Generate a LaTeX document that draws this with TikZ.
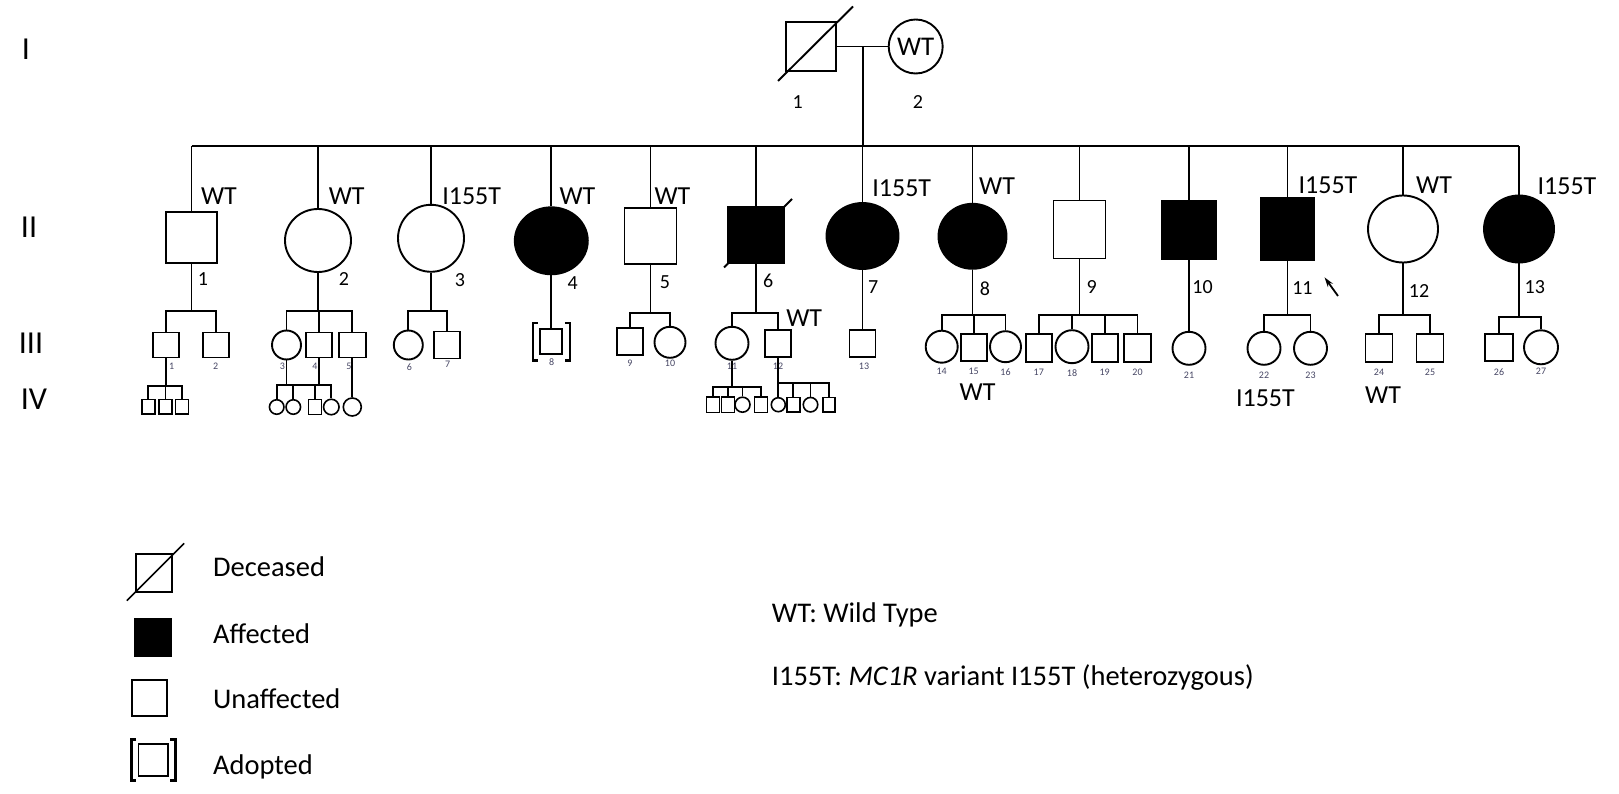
\documentclass[tikz,border=0pt]{standalone}
\usepackage{fontspec}
\setmainfont{Carlito}
\usetikzlibrary{arrows.meta, positioning, calc, shapes.geometric}
\definecolor{idxgray}{RGB}{70,70,100}
\tikzset{
  ind/.style={draw, line width=1.9pt, inner sep=0pt, fill=white},
  aff/.style={fill=black},
  bigsq/.style={ind, rectangle, minimum width=52pt, minimum height=56pt},
  bigci/.style={ind, ellipse, minimum width=69pt, minimum height=66pt},
  midsq/.style={ind, rectangle, minimum width=26pt, minimum height=27pt},
  midci/.style={ind, circle, minimum size=32pt},
  smsq/.style={ind, rectangle, line width=1.6pt, minimum width=13pt, minimum height=14.5pt},
  smci/.style={ind, circle, line width=1.6pt, minimum size=14.5pt},
  rel/.style={line width=1.9pt},
  geno/.style={font=\fontsize{26}{28}\selectfont, anchor=base, inner sep=0pt},
  num/.style={font=\fontsize{20}{22}\selectfont, inner sep=0pt},
  idx/.style={font=\fontsize{10}{11}\selectfont, text=idxgray, inner sep=0pt},
  gen/.style={font=\fontsize{32}{34}\selectfont, anchor=base, inner sep=0pt},
  key/.style={font=\fontsize{28.5}{30}\selectfont, anchor=base west, inner sep=0pt},
}
\newcommand{\adoptbr}[4]{%
  \draw[line width=2.6pt] ($(#1)+(-#2+#4,-#3)$) -- ++(-#4,0) -- ++(0,2*#3) -- ++(#4,0);
  \draw[line width=2.6pt] ($(#1)+(#2-#4,-#3)$) -- ++(#4,0) -- ++(0,2*#3) -- ++(-#4,0);}

\begin{document}
\begin{tikzpicture}[x=1pt, y=-1pt]
  \useasboundingbox (0,0) rectangle (1619,794);
  \node[gen] (gI) at (26,60) {I};
  \node[gen] (gII) at (29,237.5) {II};
  \node[gen] (gIII) at (31,353) {III};
  \node[gen] (gIV) at (34,409) {IV};

  % generation I
  \node[bigsq, minimum width=50pt, minimum height=49pt] (I1) at (811,46.5) {};
  \node[ind, circle, minimum size=54pt, font=\fontsize{27}{28}\selectfont] (I2) at (915.7,46.5) {WT};
  \draw[rel] ($(I1)+(-33,34.5)$) -- ($(I1)+(42,-40)$);
  \draw[rel] (I1) -- (I2);
  \coordinate (m1) at (863,46.5);
  \coordinate (sib) at (863,145.7);
  \draw[rel] (m1) -- (sib);
  \node[num] (n01) at (797.6,102.5) {1};
  \node[num] (n02) at (918,102.5) {2};

  % generation II
  \node[bigsq, minimum width=51pt, minimum height=51pt] (II1) at (191.5,237.5) {};
  \node[bigci, minimum width=66pt, minimum height=63pt] (II2) at (318,240.5) {};
  \node[bigci, minimum width=66pt, minimum height=67pt] (II3) at (431,238.3) {};
  \node[bigci, aff, minimum width=73pt, minimum height=67pt] (II4) at (551.3,240.8) {};
  \node[bigsq] (II5) at (650.5,236) {};
  \node[bigsq, aff, minimum width=56pt, minimum height=56pt] (II6) at (756,235) {};
  \node[bigci, aff, minimum width=72pt, minimum height=66pt] (II7) at (862.5,236) {};
  \node[bigci, aff, minimum width=68pt, minimum height=65pt] (II8) at (972.5,236.3) {};
  \node[bigsq, minimum height=58pt] (II9) at (1079.5,229.5) {};
  \node[bigsq, aff, minimum width=55pt, minimum height=59pt] (II10) at (1189,230) {};
  \node[bigsq, aff, minimum width=54pt, minimum height=62pt] (II11) at (1287.5,228.7) {};
  \node[bigci, minimum width=70pt, minimum height=67pt] (II12) at (1403,229) {};
  \node[bigci, aff, minimum width=70pt, minimum height=67pt] (II13) at (1519,229) {};
  \draw[rel] ($(II6)+(-32,32.5)$) -- ($(II6)+(36,-36)$);
  \draw[rel] (II1 |- sib) -- (II13 |- sib);
  \foreach \k in {1,...,13} \draw[rel] (II\k) -- (II\k |- sib);

  \node[geno] (g1) at (219,205) {WT};
  \node[geno] (g2) at (346.7,205) {WT};
  \node[geno] (g3) at (471.7,205) {I155T};
  \node[geno] (g4) at (577.5,205) {WT};
  \node[geno] (g5) at (672.5,205) {WT};
  \node[geno] (g7) at (901.7,197) {I155T};
  \node[geno] (g8) at (997,195) {WT};
  \node[geno] (g11) at (1328,193.5) {I155T};
  \node[geno] (g12) at (1434,193.5) {WT};
  \node[geno] (g13) at (1567,195) {I155T};

  \node[num] (n1) at (203,279) {1};
  \node[num] (n2) at (344,279) {2};
  \node[num] (n3) at (460,280) {3};
  \node[num] (n4) at (572.7,283) {4};
  \node[num] (n5) at (665,281.7) {5};
  \node[num] (n6) at (768.3,281) {6};
  \node[num] (n7) at (873.3,287.3) {7};
  \node[num] (n8) at (985,288.3) {8};
  \node[num] (n9) at (1091.7,287.3) {9};
  \node[num] (n10) at (1202.6,286.7) {10};
  \node[num] (n11) at (1302.4,288.3) {11};
  \node[num] (n12) at (1419,291) {12};
  \node[num] (n13) at (1534.8,287.5) {13};
  \coordinate (pa) at (1338,296);
  \coordinate (pb) at (1324.5,277.3);
  \draw[-{Stealth[length=10pt, width=6pt]}, line width=1.8pt] (pa) -- (pb);

  % generation III
  \coordinate (s1) at (191.5,311);
  \node[midsq, minimum height=25pt] (III1) at (165.7,345) {};
  \node[midsq, minimum height=25pt] (III2) at (216,345) {};
  \draw[rel] (II1) -- (s1);
  \draw[rel] (III1) |- (s1) -| (III2);

  \coordinate (s2) at (318,311);
  \node[midci, minimum size=29pt] (III3) at (286.5,345) {};
  \node[midsq, minimum height=25pt] (III4) at (319,345) {};
  \node[midsq, minimum width=27pt, minimum height=25pt] (III5) at (352.3,345) {};
  \draw[rel] (II2) -- (s2);
  \draw[rel] (III3) |- (s2) -| (III5);
  \draw[rel] (III4) -- (III4 |- s2);

  \coordinate (s3) at (431,311);
  \node[midci, minimum size=29pt] (III6) at (408.3,345) {};
  \node[midsq] (III7) at (447,345) {};
  \draw[rel] (II3) -- (s3);
  \draw[rel] (III6) |- (s3) -| (III7);

  \node[ind, minimum width=22pt, minimum height=25pt] (III8) at (551.3,341.7) {};
  \draw[rel] (II4) -- (III8);
  \adoptbr{III8}{18.5}{18.7}{5}

  \coordinate (s5) at (650.5,313.3);
  \node[midsq] (III9) at (630,341.2) {};
  \node[midci, minimum size=31pt] (III10) at (670,342.3) {};
  \draw[rel] (II5) -- (s5);
  \draw[rel] (III9) |- (s5) -| (III10);

  \coordinate (s6) at (756,313.3);
  \node[midci, minimum size=33pt] (III11) at (732,343.3) {};
  \node[midsq] (III12) at (778.3,343.8) {};
  \draw[rel] (II6) -- (s6);
  \draw[rel] (III11) |- (s6) -| (III12);
  \node[geno] (g612) at (804.2,326.7) {WT};

  \node[midsq] (III13) at (862.5,343.7) {};
  \draw[rel] (II7) -- (III13);

  \coordinate (s8) at (972.5,315);
  \node[midci] (III14) at (941.7,346.7) {};
  \node[midsq] (III15) at (973.7,347.8) {};
  \node[midci, minimum size=31pt] (III16) at (1005.5,346.7) {};
  \draw[rel] (II8) -- (s8);
  \draw[rel] (III14) |- (s8) -| (III16);
  \draw[rel] (III15) -- (III15 |- s8);
  \node[geno] (g815) at (977.5,400) {WT};

  \coordinate (s9) at (1079.5,315);
  \node[midsq, minimum height=28pt] (III17) at (1038.8,348.3) {};
  \node[midci, minimum size=33pt] (III18) at (1072,346.7) {};
  \node[midsq, minimum height=28pt] (III19) at (1104.7,348.3) {};
  \node[midsq, minimum width=27pt, minimum height=28pt] (III20) at (1137.5,348.3) {};
  \draw[rel] (II9) -- (s9);
  \draw[rel] (III17) |- (s9) -| (III20);
  \draw[rel] (III18) -- (III18 |- s9);
  \draw[rel] (III19) -- (III19 |- s9);

  \node[midci, minimum size=33pt] (III21) at (1189,348.3) {};
  \draw[rel] (II10) -- (III21);

  \coordinate (s11) at (1287.5,315);
  \node[midci, minimum size=33pt] (III22) at (1264,348.3) {};
  \node[midci, minimum size=33pt] (III23) at (1310.5,348.3) {};
  \draw[rel] (II11) -- (s11);
  \draw[rel] (III22) |- (s11) -| (III23);
  \node[geno] (g1122) at (1265.4,406.7) {I155T};

  \coordinate (s12) at (1403,315);
  \node[midsq, minimum width=27pt, minimum height=28pt] (III24) at (1379,348) {};
  \node[midsq, minimum width=27pt, minimum height=28pt] (III25) at (1430,348) {};
  \draw[rel] (II12) -- (s12);
  \draw[rel] (III24) |- (s12) -| (III25);
  \node[geno] (g1224) at (1383,403.3) {WT};

  \coordinate (s13) at (1519,316.7);
  \node[midsq, minimum width=28pt] (III26) at (1499,347.3) {};
  \node[midci, minimum size=34pt] (III27) at (1541,347.3) {};
  \draw[rel] (II13) -- (s13);
  \draw[rel] (III26) |- (s13) -| (III27);

  \node[idx] (i1) at (171.7,366.7) {1};
  \node[idx] (i2) at (215.7,366.7) {2};
  \node[idx] (i3) at (282.3,366.7) {3};
  \node[idx] (i4) at (315,366.7) {4};
  \node[idx] (i5) at (349,366.7) {5};
  \node[idx] (i6) at (409.3,366.7) {6};
  \node[idx] (i7) at (447.7,364.3) {7};
  \node[idx] (i8) at (551.7,362.5) {8};
  \node[idx] (i9) at (630,363) {9};
  \node[idx] (i10) at (670,363) {10};
  \node[idx] (i11) at (732,366) {11};
  \node[idx] (i12) at (778,366) {12};
  \node[idx] (i13) at (864,366) {13};
  \node[idx] (i14) at (941.7,371.7) {14};
  \node[idx] (i15) at (973.7,371.7) {15};
  \node[idx] (i16) at (1005.5,371.7) {16};
  \node[idx] (i17) at (1038.8,372.7) {17};
  \node[idx] (i18) at (1072,372.7) {18};
  \node[idx] (i19) at (1104.7,372.7) {19};
  \node[idx] (i20) at (1137.5,372.7) {20};
  \node[idx] (i21) at (1189,375) {21};
  \node[idx] (i22) at (1264,375) {22};
  \node[idx] (i23) at (1310.5,375) {23};
  \node[idx] (i24) at (1379,372.7) {24};
  \node[idx] (i25) at (1430,372.7) {25};
  \node[idx] (i26) at (1499,371.7) {26};
  \node[idx] (i27) at (1541,371.7) {27};

  % generation IV
  \coordinate (t1) at (165.7,385.7);
  \node[smsq] (IV1) at (148.3,406.8) {};
  \node[smsq] (IV2) at (165.5,406.8) {};
  \node[smsq] (IV3) at (182,406.8) {};
  \draw[rel] (III1) -- (t1);
  \draw[rel] (IV1) |- (t1) -| (IV3);
  \draw[rel] (IV2) -- (IV2 |- t1);

  \coordinate (t2) at (300,385);
  \node[smci] (IV4) at (276.7,407) {};
  \node[smci] (IV5) at (293.3,407) {};
  \node[smsq, minimum height=15pt] (IV6) at (315,407) {};
  \node[smci, minimum size=15.5pt] (IV7) at (331.3,407) {};
  \draw[rel] (III3) -- (III3 |- t2);
  \draw[rel] (III4) -- (III4 |- t2);
  \draw[rel] (IV4) |- (t2) -| (IV7);
  \draw[rel] (IV5) -- (IV5 |- t2);
  \draw[rel] (IV6) -- (IV6 |- t2);
  \node[smci, minimum size=18pt] (IV8) at (352.3,407) {};
  \draw[rel] (III5) -- (IV8);

  \coordinate (t3) at (732,386.7);
  \node[smsq, minimum height=15.5pt] (IV9) at (713,404.7) {};
  \node[smsq, minimum height=15.5pt] (IV10) at (728,404.7) {};
  \node[smci, minimum size=15pt] (IV11) at (742.5,404.7) {};
  \node[smsq, minimum height=15.5pt] (IV12) at (761,404.7) {};
  \draw[rel] (III11) -- (t3);
  \draw[rel] (IV9) |- (t3) -| (IV12);
  \draw[rel] (IV10) -- (IV10 |- t3);
  \draw[rel] (IV11) -- (IV11 |- t3);

  \coordinate (t4) at (778.3,383.3);
  \node[smci, minimum size=14pt] (IV13) at (778.3,404.7) {};
  \node[smsq] (IV14) at (793.3,404.7) {};
  \node[smci] (IV15) at (810.5,404.7) {};
  \node[smsq, minimum width=12pt] (IV16) at (829,404.7) {};
  \draw[rel] (III12) -- (IV13);
  \draw[rel] (t4) -| (IV16);
  \draw[rel] (IV14) -- (IV14 |- t4);
  \draw[rel] (IV15) -- (IV15 |- t4);

  % key
  \node[ind, minimum width=36pt, minimum height=38pt] (kd) at (154,573.3) {};
  \draw[line width=1.5pt] ($(kd)+(-27.2,27.4)$) -- ($(kd)+(30.2,-30)$);
  \node[ind, aff, minimum width=36pt, minimum height=37pt] (ka) at (152.9,637.8) {};
  \node[ind, minimum width=35pt, minimum height=35.5pt] (ku) at (149.8,698) {};
  \node[ind, minimum width=29.5pt, minimum height=31.5pt] (kp) at (153.2,760) {};
  \adoptbr{kp}{22}{20.7}{5}
  \node[key] (kdt) at (212.9,576) {Deceased};
  \node[key] (kat) at (212.9,643.3) {Affected};
  \node[key] (kut) at (212.9,708.3) {Unaffected};
  \node[key] (kpt) at (212.9,774) {Adopted};
  \node[key] (kwt) at (771.7,622.7) {WT: Wild Type};
  \node[key] (kit) at (771.7,685) {I155T: \textit{MC1R} variant I155T (heterozygous)};
\end{tikzpicture}
\end{document}
